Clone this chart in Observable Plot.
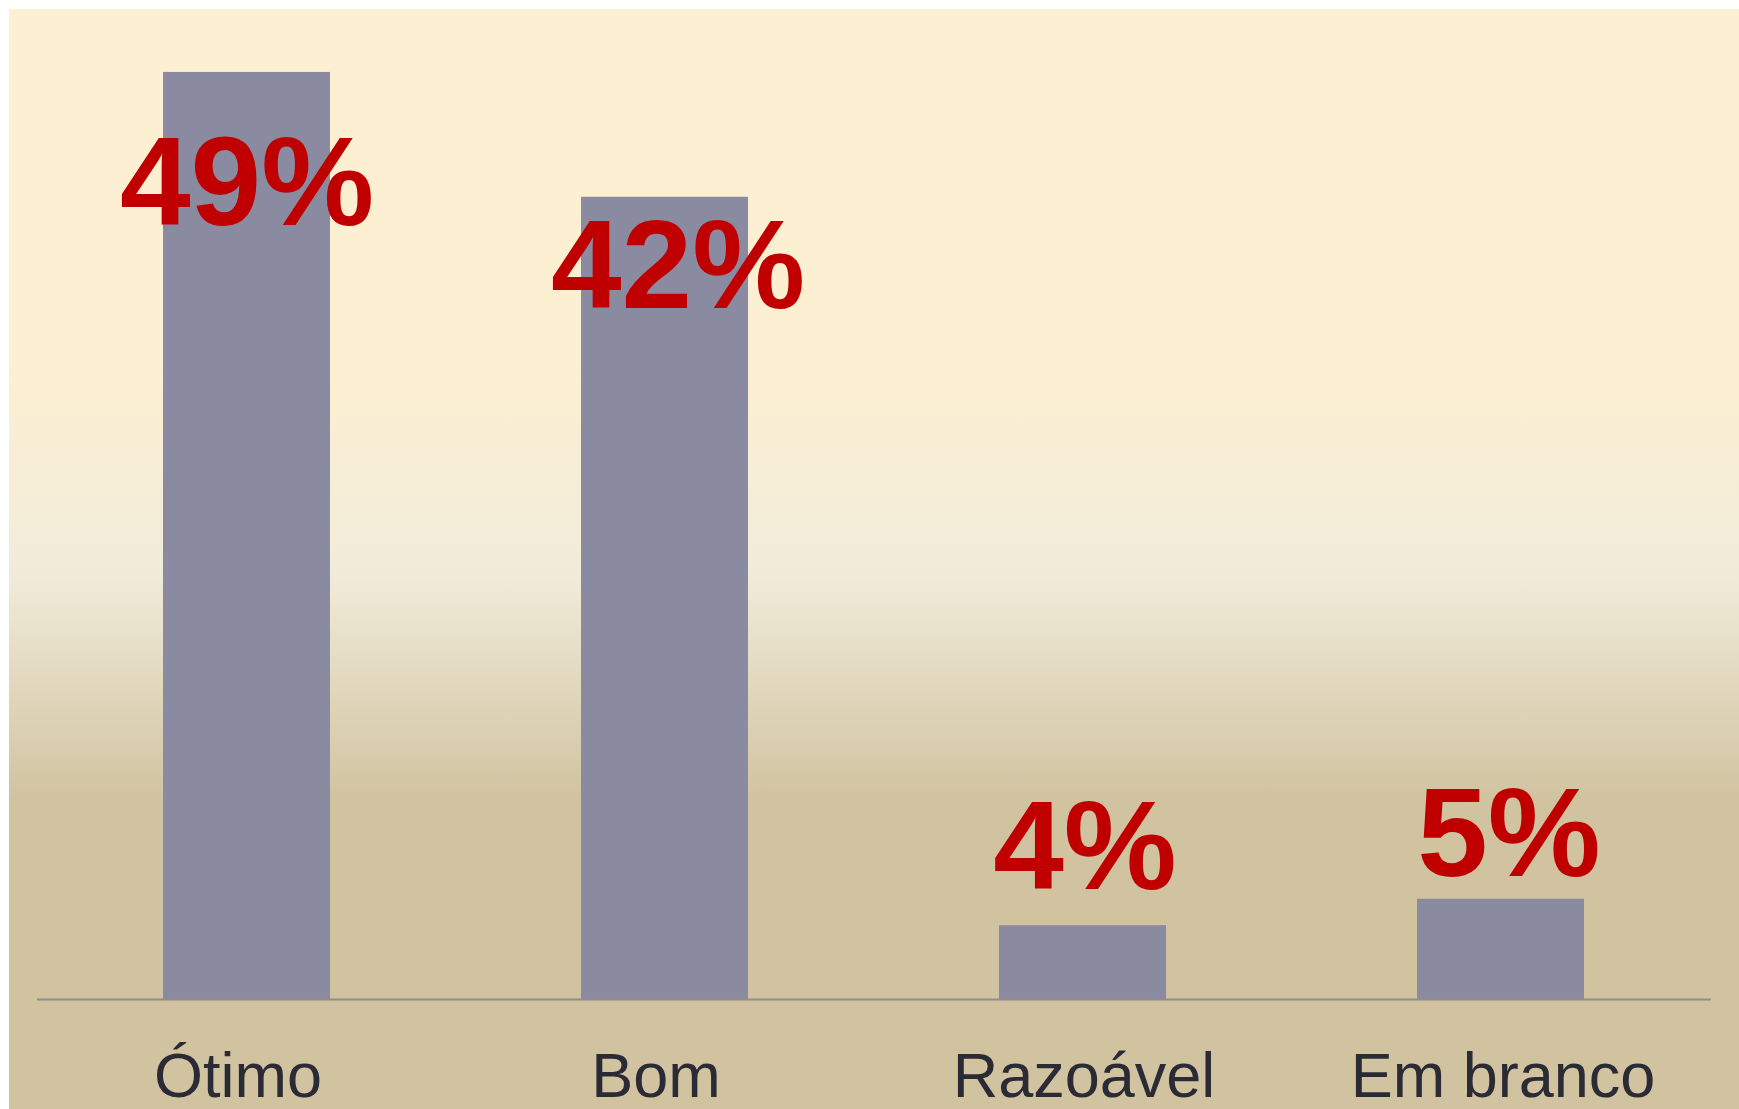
<!DOCTYPE html>
<html>
<head>
<meta charset="utf-8">
<script src="https://cdn.jsdelivr.net/npm/d3@7"></script>
<script src="https://cdn.jsdelivr.net/npm/@observablehq/plot@0.6"></script>
<style>
  html, body { margin: 0; padding: 0; background: #ffffff; }
  #wrap { position: relative; width: 1739px; height: 1109px; overflow: hidden; }
  #panel {
    position: absolute; left: 9px; top: 9px; width: 1730px; height: 1100px;
    background: linear-gradient(to bottom,
      #FDEFD1 0%, #FDEFD1 32%, #F1ECDA 51%, #D1C3A0 72%, #D1C3A0 100%);
  }
  #chart { position: absolute; left: 0; top: 0; }
</style>
</head>
<body>
<div id="wrap"><div id="panel"></div><div id="chart"></div></div>
<script>
// Data
const categories = ["Ótimo", "Bom", "Razoável", "Em branco"];
const values = [49, 42.4, 3.9, 5.3];           // percent (bar heights)
const labelAnchor = [43.1, 38.7, 8.0, 8.7];     // vertical anchor of each value label, in percent units

const data = categories.map((c, i) => ({
  category: c,
  value: values[i],
  label: Math.round(values[i]) + "%",
  labelY: labelAnchor[i]
}));

// small horizontal nudges (px) matching the hand-placed labels of the original
const valueLabelDx = [0, 13, 2, 8];
const categoryLabelDx = [-9, -9, 1, 2];

const chart = Plot.plot({
  width: 1739,
  height: 1109,
  marginLeft: 37,
  marginRight: 28,
  marginTop: 53,
  marginBottom: 110,
  style: {
    background: "none",
    fontFamily: "'Liberation Sans', Arial, Helvetica, sans-serif",
    fontSize: "63px",
    color: "#2B2B36",
    overflow: "visible"
  },
  x: {
    domain: categories,
    paddingInner: 0.6,
    paddingOuter: 0.3,
    axis: null
  },
  y: { domain: [0, 50], axis: null },
  marks: [
    Plot.barY(data, { x: "category", y: "value", fill: "#8A8AA0" }),
    Plot.ruleY([0], { stroke: "#8E8E8E", strokeWidth: 2 }),
    ...data.map((d, i) => Plot.text([d], {
      x: "category",
      frameAnchor: "bottom",
      lineAnchor: "top",
      dy: 53,
      dx: categoryLabelDx[i],
      text: "category",
      fill: "#2B2B36",
      fontSize: 63,
      textAnchor: "middle"
    })),
    ...data.map((d, i) => Plot.text([d], {
      x: "category",
      y: "labelY",
      dx: valueLabelDx[i],
      text: "label",
      fill: "#C00000",
      fontSize: 127,
      fontWeight: "bold",
      textAnchor: "middle"
    }))
  ]
});
document.getElementById("chart").appendChild(chart);
</script>
</body>
</html>
